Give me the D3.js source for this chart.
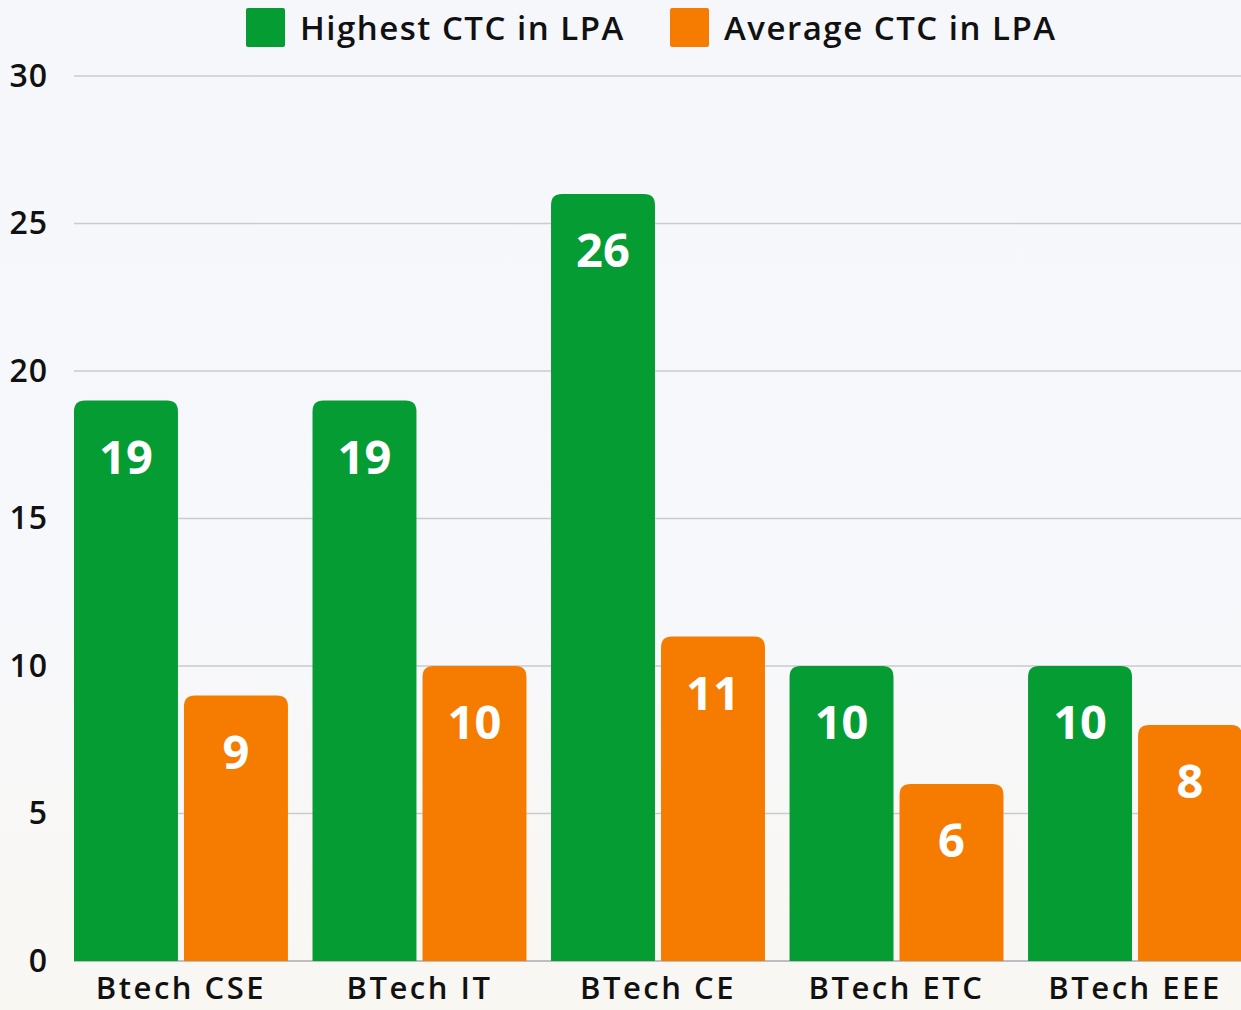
<!DOCTYPE html>
<html>
<head>
<meta charset="utf-8">
<script src="https://cdn.jsdelivr.net/npm/d3@7"></script>
<style>
  html, body { margin: 0; padding: 0; }
  body { width: 1241px; height: 1010px; overflow: hidden; background: #f6f8fb; }
  text { font-family: "Open Sans", sans-serif; }
</style>
</head>
<body>
<script>
// chart data
const categories = ['Btech CSE', 'BTech IT', 'BTech CE', 'BTech ETC', 'BTech EEE']
const highestCtc = [19, 19, 26, 10, 10]
const averageCtc = [9, 10, 11, 6, 8]
const seriesNames = ['Highest CTC in LPA', 'Average CTC in LPA']
const yTicks = [0, 5, 10, 15, 20, 25, 30]

const width = 1241
const height = 1010
const colors = ['#069c34', '#f57c00']

const svg = d3.select('body')
  .append('svg')
  .attr('width', width)
  .attr('height', height)

// faint background wash
const defs = svg.append('defs')
const grad = defs.append('linearGradient')
  .attr('id', 'bg')
  .attr('x1', 0).attr('y1', 0).attr('x2', 0).attr('y2', 1)
grad.append('stop').attr('offset', '0%').attr('stop-color', '#f5f7fb')
grad.append('stop').attr('offset', '60%').attr('stop-color', '#f7f8fb')
grad.append('stop').attr('offset', '100%').attr('stop-color', '#f9f7f2')
svg.append('rect')
  .attr('width', width)
  .attr('height', height)
  .attr('fill', 'url(#bg)')

const x0 = d3.scaleBand()
  .domain(categories)
  .range([74, 1242])
  .paddingInner(0.103)
  .paddingOuter(0)

const x1 = d3.scaleBand()
  .domain([0, 1])
  .range([0, x0.bandwidth()])
  .paddingInner(0.055)

const y = d3.scaleLinear()
  .domain([0, 30])
  .range([961, 76])

// gridlines
svg.append('g')
  .selectAll('line')
  .data(yTicks)
  .join('line')
  .attr('x1', 74)
  .attr('x2', width)
  .attr('y1', d => y(d))
  .attr('y2', d => y(d))
  .attr('stroke', d => d === 0 ? '#a9abb0' : '#c9cbd0')
  .attr('stroke-width', 1.5)

// y axis labels
const yAxis = svg.append('g')
  .attr('transform', 'translate(48,0)')
  .call(d3.axisLeft(y).tickValues(yTicks).tickSize(0).tickPadding(0))
yAxis.select('.domain').remove()
yAxis.selectAll('text')
  .attr('font-size', 32)
  .attr('font-weight', 600)
  .attr('letter-spacing', 1)
  .attr('fill', '#111')
  .style('font-family', '"Open Sans", sans-serif')

// rounded-top bar path
function barPath(x, yTop, w, yBottom, r) {
  r = Math.min(r, (yBottom - yTop), w / 2)
  return `M${x},${yBottom}V${yTop + r}Q${x},${yTop} ${x + r},${yTop}` +
    `H${x + w - r}Q${x + w},${yTop} ${x + w},${yTop + r}V${yBottom}Z`
}

const rows = categories.map((c, i) => ({ cat: c, vals: [highestCtc[i], averageCtc[i]] }))

const groups = svg.append('g')
  .selectAll('g')
  .data(rows)
  .join('g')
  .attr('transform', d => `translate(${x0(d.cat)},0)`)

groups.selectAll('path')
  .data(d => d.vals.map((v, k) => ({ v, k })))
  .join('path')
  .attr('d', d => barPath(x1(d.k), y(d.v), x1.bandwidth(), y(0), 11))
  .attr('fill', d => colors[d.k])

groups.selectAll('text.val')
  .data(d => d.vals.map((v, k) => ({ v, k })))
  .join('text')
  .attr('class', 'val')
  .attr('x', d => x1(d.k) + x1.bandwidth() / 2)
  .attr('y', d => y(d.v) + 55)
  .attr('text-anchor', 'middle')
  .attr('dominant-baseline', 'central')
  .attr('fill', '#fff')
  .attr('font-size', 47)
  .attr('font-weight', 700)
  .text(d => d.v)

// x axis labels
svg.append('g')
  .selectAll('text')
  .data(categories)
  .join('text')
  .attr('x', d => x0(d) + x0.bandwidth() / 2)
  .attr('y', 999)
  .attr('text-anchor', 'middle')
  .attr('font-size', 31)
  .attr('font-weight', 600)
  .attr('letter-spacing', 2.5)
  .attr('fill', '#111')
  .text(d => d)

// legend
const legendX = [246, 670]
const legend = svg.append('g')
  .selectAll('g')
  .data(seriesNames)
  .join('g')
  .attr('transform', (d, i) => `translate(${legendX[i]},8)`)
legend.append('rect')
  .attr('width', 39)
  .attr('height', 39)
  .attr('rx', 2)
  .attr('fill', (d, i) => colors[i])
legend.append('text')
  .attr('x', 54)
  .attr('y', 19)
  .attr('dominant-baseline', 'central')
  .attr('font-size', 33)
  .attr('font-weight', 600)
  .attr('letter-spacing', 1.5)
  .attr('fill', '#111')
  .text(d => d)
</script>
</body>
</html>
